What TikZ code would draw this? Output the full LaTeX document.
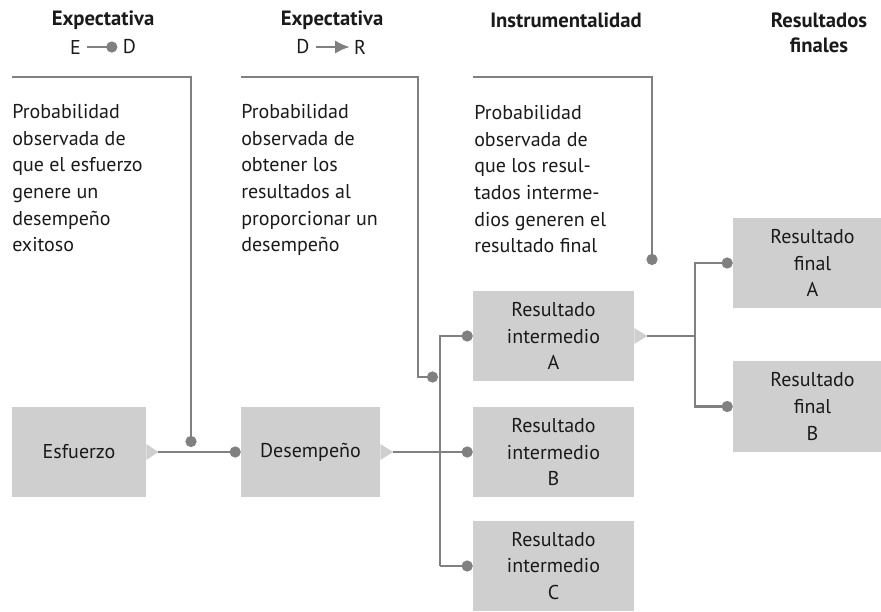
\documentclass[tikz,border=0pt]{standalone}
\usepackage{fontspec}
\setmainfont{PT Sans}
\usetikzlibrary{arrows.meta}
\definecolor{boxgray}{HTML}{CFCFCF}
\definecolor{linegray}{HTML}{808080}
\definecolor{txt}{HTML}{1A1A1A}

\begin{document}
\begin{tikzpicture}[x=0.75pt, y=-0.75pt,
  every node/.style={inner sep=0pt, text=txt, font=\fontsize{15pt}{20pt}\selectfont},
  head/.style={font=\fontsize{15.5pt}{19pt}\selectfont\bfseries, align=center},
  note/.style={anchor=north west, align=left},
  box/.style={fill=boxgray, align=center, minimum height=68pt},
  tri/.style={fill=boxgray},
  conn/.style={linegray, line width=1.9pt},
  dot/.style={conn, -{Circle[length=8.3pt]}}
]
\useasboundingbox (0,0) rectangle (881,611);

% column headings
\node[head] (hExpED) at (103,20) {Expectativa};
\node (hE) at (75.5,47) {E};
\node (hD) at (129.5,47) {D};
\draw[dot, shorten <=4.5pt, shorten >=4pt] (hE) -- (hD);
\node[head] (hExpDR) at (332,20) {Expectativa};
\node (hD2) at (303,47) {D};
\node (hR) at (360,47) {R};
\draw[conn, -{Latex[length=11pt, width=10pt]}, shorten <=4.5pt, shorten >=3pt] (hD2) -- (hR);
\node[head] (hInst) at (566,20) {Instrumentalidad};
\node[head] (hRes) at (819,33) {Resultados\\finales};

% descriptions
\node[note] (nED) at (12,104) {Probabilidad\\observada de\\que el esfuerzo\\genere un\\desempeño\\exitoso};
\node[note] (nDR) at (241,104) {Probabilidad\\observada de\\obtener los\\resultados al\\proporcionar un\\desempeño};
\node[note] (nInst) at (474,105) {Probabilidad\\observada de\\que los resul-\\tados interme-\\dios generen el\\resultado final};

% boxes
\node[box, minimum width=100.5pt] (esf) at (79,452) {Esfuerzo};
\node[box, minimum width=104.25pt] (des) at (310.5,452) {Desempeño};
\node[box, minimum width=120.75pt] (intA) at (553.5,336) {Resultado\\intermedio\\A};
\node[box, minimum width=120.75pt] (intB) at (553.5,452) {Resultado\\intermedio\\B};
\node[box, minimum width=120.75pt] (intC) at (553.5,566) {Resultado\\intermedio\\C};
\node[box, minimum width=119.25pt] (finA) at (812.5,263) {Resultado\\final\\A};
\node[box, minimum width=119.25pt] (finB) at (812.5,406.5) {Resultado\\final\\B};

% pointers
\fill[tri] (esf.east) ++(0,-8) -- ++(12,8) coordinate (esfTip) -- ++(-12,8) -- cycle;
\fill[tri] (des.east) ++(0,-8) -- ++(13,8) coordinate (desTip) -- ++(-13,8) -- cycle;
\fill[tri] (intA.east) ++(0,-8) -- ++(13,8) coordinate (intTip) -- ++(-13,8) -- cycle;

% connectors
\coordinate (l1s) at (12,77);
\coordinate (l1e) at (191,447);
\draw[dot] (l1s) -| (l1e);
\coordinate (l2s) at (241,77);
\coordinate (l2c) at (418,377);
\coordinate (l2e) at (438,377);
\draw[dot] (l2s) -| (l2c) -- (l2e);
\coordinate (l3s) at (473,77);
\coordinate (l3e) at (652,265);
\draw[dot] (l3s) -| (l3e);

\draw[dot] (esfTip) -- (des.west);
\draw[dot] (desTip) -- (intB.west);
\coordinate (trkBot) at (440,566);
\draw[dot] (trkBot) |- (intA.west);
\draw[dot] (trkBot) -- (intC.west);
\coordinate (finTrk) at (695,336);
\draw[conn] (intTip) -- (finTrk);
\draw[dot] (finTrk) |- (finA.west);
\draw[dot] (finTrk) |- (finB.west);
\end{tikzpicture}
\end{document}
